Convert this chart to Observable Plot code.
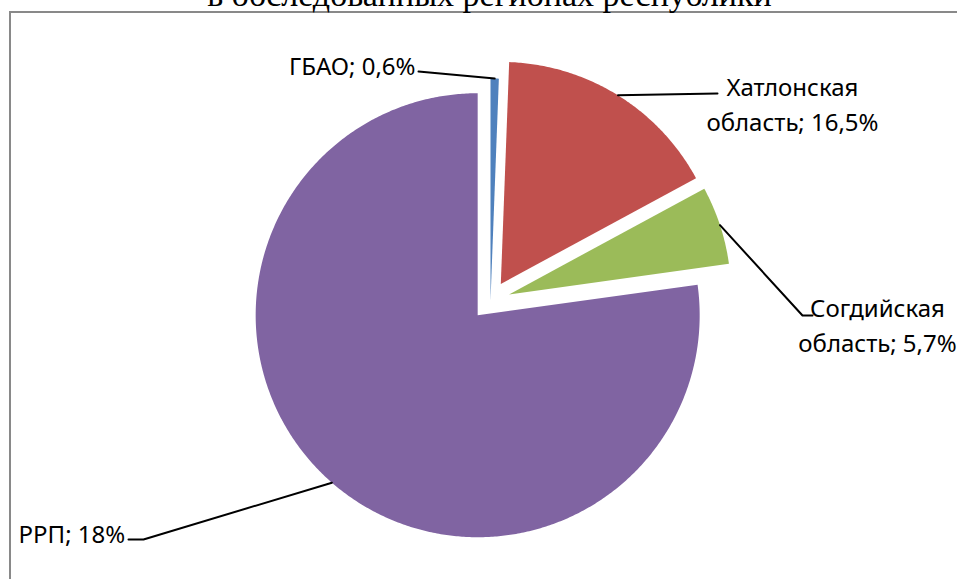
<!DOCTYPE html>
<html><head><meta charset="utf-8">
<script src="https://cdn.jsdelivr.net/npm/d3@7"></script>
<script src="https://cdn.jsdelivr.net/npm/@observablehq/plot@0.6"></script>
<style>
html,body{margin:0;padding:0;background:#fff;overflow:hidden;}
#wrap{position:relative;width:957px;height:579px;overflow:hidden;}
#frame{position:absolute;left:9px;top:11px;width:1300px;height:1300px;border:2.5px solid #898989;box-sizing:border-box;}
#chart{position:absolute;left:0;top:0;}
</style></head>
<body><div id="wrap"><div id="frame"></div><div id="chart"></div></div>
<script>
// ---- data ----
const categories = ["ГБАО", "Хатлонская область", "Согдийская область", "РРП"];
const values = [0.6, 16.5, 5.7, 77.2];
const labelTexts = ["ГБАО; 0,6%", "Хатлонская\nобласть; 16,5%", "Согдийская\nобласть; 5,7%", "РРП; 18%"];
const colors = ["#4F81BD", "#C0504D", "#9BBB59", "#8064A2"];
const titleText = "в обследованных регионах республики";

// ---- layout ----
const W = 957, H = 579;
const CX = 490, CY = 300, R = 222;
const explode = [0, 0.088, 0.088, 0.088];
const labelPos = [
  {x: 415, y: 63, anchor: "end"},
  {x: 792, y: 102, anchor: "middle"},
  {x: 877, y: 323, anchor: "middle"},
  {x: 18, y: 531, anchor: "start"}
];
const leaderBends = [[[418, 71]], [[717, 93]], [[802, 315], [812, 315]], [[143, 539], [128, 539]]];
const toX = px => (px - CX) / R, toY = py => (py - CY) / R;

const arcs = d3.pie().sort(null).value(d => d)(values);
const slicePts = [], leaderPts = [], labelData = [];
arcs.forEach((p, i) => {
  const cat = categories[i];
  const mid = (p.startAngle + p.endAngle) / 2;
  const ox = explode[i] * Math.sin(mid), oy = -explode[i] * Math.cos(mid);
  const n = Math.max(4, Math.ceil((p.endAngle - p.startAngle) / (Math.PI / 360)));
  slicePts.push({cat, x: ox, y: oy});
  for (let k = 0; k <= n; k++) {
    const a = p.startAngle + (p.endAngle - p.startAngle) * k / n;
    slicePts.push({cat, x: ox + Math.sin(a), y: oy - Math.cos(a)});
  }
  slicePts.push({cat, x: ox, y: oy});
  leaderPts.push({cat, x: (1 + explode[i]) * Math.sin(mid), y: -(1 + explode[i]) * Math.cos(mid)});
  leaderBends[i].forEach(([bx, by]) => leaderPts.push({cat, x: toX(bx), y: toY(by)}));
  labelData.push({cat, text: labelTexts[i], x: toX(labelPos[i].x), y: toY(labelPos[i].y), anchor: labelPos[i].anchor});
});

const textOpts = a => ({x: "x", y: "y", text: "text", textAnchor: a, lineAnchor: "middle",
  fontSize: 24, fontFamily: "Noto Sans", fill: "#000", lineHeight: 1.45});

const chart = Plot.plot({
  width: W, height: H, margin: 0,
  x: {domain: [toX(0), toX(W)], range: [0, W], axis: null},
  y: {domain: [toY(0), toY(H)], range: [0, H], axis: null},
  color: {domain: categories, range: colors},
  style: {background: "none", overflow: "visible"},
  marks: [
    Plot.line(slicePts, {x: "x", y: "y", z: "cat", fill: "cat", stroke: "none", curve: "linear"}),
    Plot.line(leaderPts, {x: "x", y: "y", z: "cat", stroke: "#000", strokeWidth: 2, curve: "linear"}),
    Plot.text(labelData.filter(d => d.anchor === "end"), textOpts("end")),
    Plot.text(labelData.filter(d => d.anchor === "middle"), textOpts("middle")),
    Plot.text(labelData.filter(d => d.anchor === "start"), textOpts("start")),
    Plot.text([titleText], {x: () => toX(489), y: () => toY(5), text: d => d, textAnchor: "middle",
      lineAnchor: "bottom", fontSize: 34, fontFamily: "Liberation Serif", fill: "#000"})
  ]
});
document.getElementById("chart").appendChild(chart);
</script>
</body></html>
